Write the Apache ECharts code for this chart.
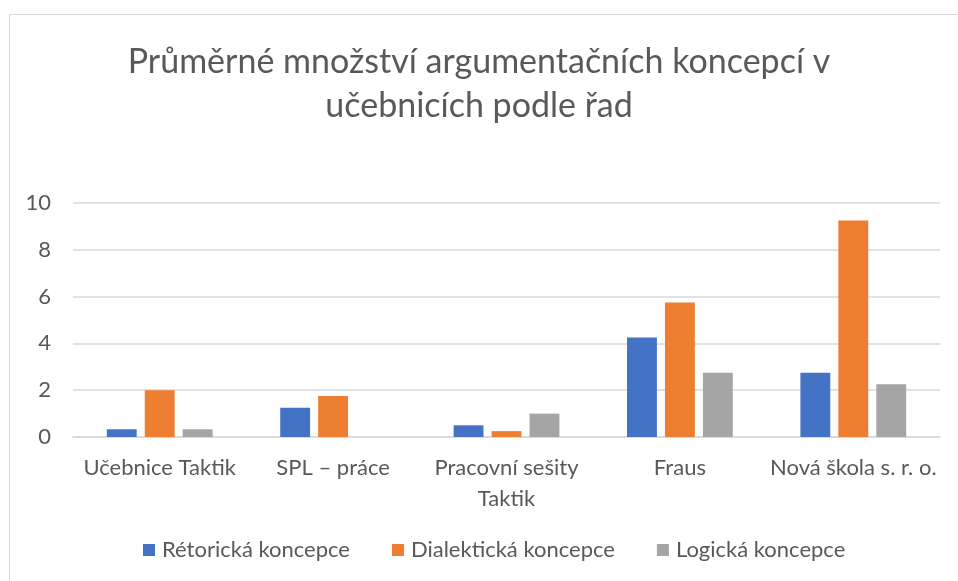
<!DOCTYPE html>
<html>
<head>
<meta charset="utf-8">
<script src="https://cdn.jsdelivr.net/npm/echarts@6/dist/echarts.min.js"></script>
<style>
  html, body { margin: 0; padding: 0; background: #fff; }
  #main { width: 958px; height: 581px; }
</style>
</head>
<body>
<div id="main"></div>
<script>
// data
var categories = ['Učebnice Taktik', 'SPL – práce', 'Pracovní sešity\nTaktik', 'Fraus', 'Nová škola s. r. o.']
var rhetorical = [0.33, 1.25, 0.5, 4.25, 2.75]
var dialectical = [2, 1.75, 0.25, 5.75, 9.25]
var logical = [0.33, 0, 1, 2.75, 2.25]
var yTicks = [0, 2, 4, 6, 8, 10]

var font = 'Lato, "Open Sans", sans-serif'
var txt = '#595959'

var myChart = echarts.init(document.getElementById('main'))
var option = {
  animation: false,
  textStyle: { fontFamily: font },
  title: {
    text: 'Průměrné množství argumentačních koncepcí v\nučebnicích podle řad',
    left: 'center',
    top: 35,
    textStyle: { fontFamily: font, fontSize: 34, fontWeight: 'normal', color: txt, lineHeight: 44 },
  },
  // rámeček grafu
  graphic: [{
    type: 'rect',
    shape: { x: 9.5, y: 14.5, width: 1000, height: 1000 },
    style: { fill: 'none', stroke: '#d9d9d9', lineWidth: 1 },
    silent: true,
  }],
  legend: {
    bottom: 15,
    left: 138,
    itemWidth: 12,
    itemHeight: 12,
    itemGap: 42,
    icon: 'rect',
    textStyle: { fontFamily: font, fontSize: 22, color: txt, padding: [0, 0, 0, 2] },
    data: ['Rétorická koncepce', 'Dialektická koncepce', 'Logická koncepce'],
  },
  grid: { left: 73, right: 18, top: 203, bottom: 144 },
  xAxis: {
    type: 'category',
    data: categories,
    axisTick: { show: false },
    axisLine: { lineStyle: { color: '#d9d9d9', width: 1.5 } },
    axisLabel: { fontFamily: font, fontSize: 22, color: txt, margin: 15, lineHeight: 31, interval: 0 },
  },
  yAxis: {
    type: 'value',
    min: yTicks[0],
    max: yTicks[yTicks.length - 1],
    interval: 2,
    axisLine: { show: false },
    axisTick: { show: false },
    axisLabel: { fontFamily: font, fontSize: 22, color: txt, margin: 22 },
    splitLine: { lineStyle: { color: '#d9d9d9', width: 1.5 } },
  },
  series: [
    { name: 'Rétorická koncepce', type: 'bar', data: rhetorical, itemStyle: { color: '#4472c4' }, barGap: '27%', barCategoryGap: '39%' },
    { name: 'Dialektická koncepce', type: 'bar', data: dialectical, itemStyle: { color: '#ed7d31' } },
    { name: 'Logická koncepce', type: 'bar', data: logical, itemStyle: { color: '#a5a5a5' } },
  ],
}
myChart.setOption(option)
</script>
</body>
</html>
